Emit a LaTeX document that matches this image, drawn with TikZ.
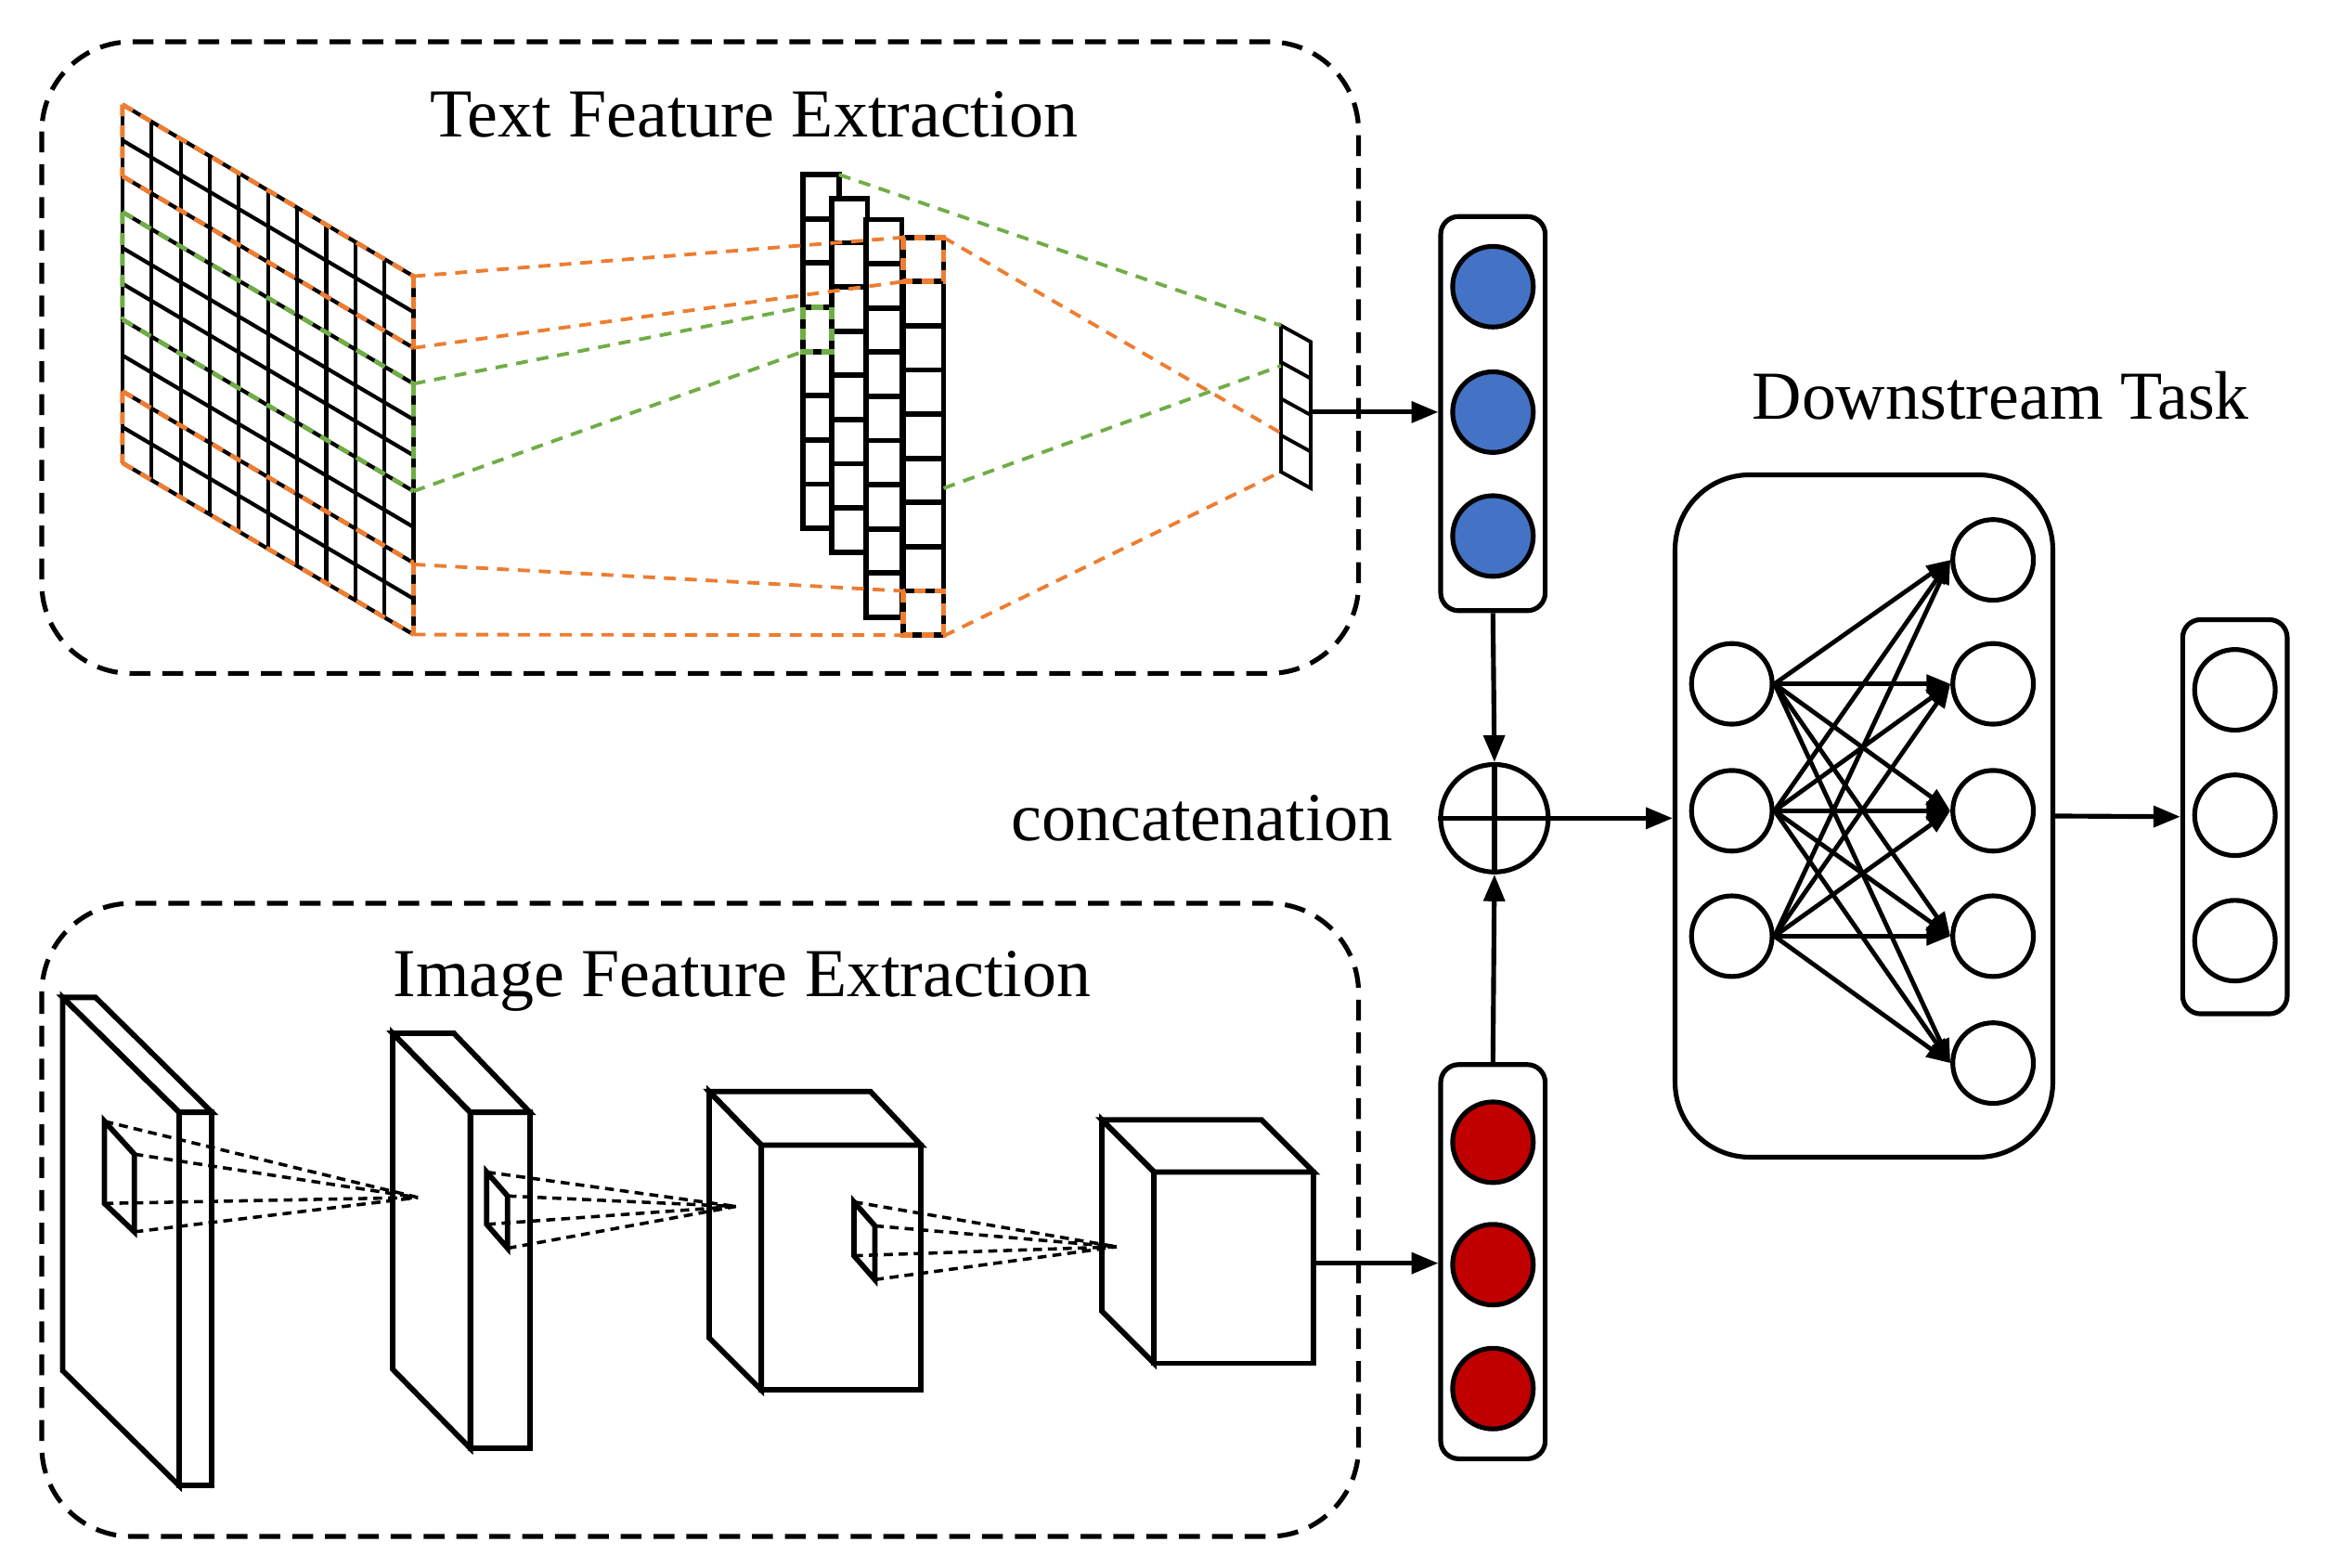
\documentclass[tikz,border=0pt]{standalone}
\usepackage{fontspec}
\setmainfont{Liberation Serif}
\usetikzlibrary{arrows.meta,calc}
\definecolor{myor}{RGB}{237,125,49}
\definecolor{mygr}{RGB}{112,173,71}
\definecolor{myblue}{RGB}{68,114,196}
\definecolor{myred}{RGB}{192,0,0}
\begin{document}
\begin{tikzpicture}[x=0.5pt,y=-0.5pt,
  thick/.style={line width=1.8pt},
  grp/.style={draw,line width=1.6pt,dash pattern=on 7pt off 4pt,rounded corners=30pt},
  vbox/.style={draw,line width=1.6pt,rounded corners=6pt,minimum width=35pt,minimum height=132pt},
  neu/.style={circle,draw,line width=1.6pt,minimum size=27pt,inner sep=0pt},
  odash/.style={myor,line width=1.2pt,dash pattern=on 4pt off 3pt},
  gdash/.style={mygr,line width=1.2pt,dash pattern=on 4pt off 3pt},
  kdash/.style={line width=1.1pt,dash pattern=on 3pt off 2pt},
  arr/.style={line width=1.6pt,-{Triangle[length=9pt,width=7pt]}},
  ttl/.style={font=\fontsize{23}{25}\selectfont}]
\useasboundingbox (0,0) rectangle (1560,1050);
% group boxes
\draw[grp] (28,28) rectangle (910,451);
\draw[grp] (28,605) rectangle (910,1029);
\node[ttl] (t1) at (505,77) {Text Feature Extraction};
\node[ttl] (t2) at (497,657) {Image Feature Extraction};
% grid
\foreach \i in {0,...,10}
  \draw[line width=1.3pt] ({82+19.5*\i},{70+11.5*\i}) -- ({82+19.5*\i},{310+11.5*\i});
\foreach \j in {0,...,10}
  \draw[line width=1.3pt] (82,{70+24*\j}) -- (277,{185+24*\j});
\draw[odash,line width=1.5pt] (82,70) -- (277,185) (82,118) -- (277,233) (82,262) -- (277,377) (82,310) -- (277,425)
  (82,70) -- (82,118) (277,185) -- (277,233) (82,262) -- (82,310) (277,377) -- (277,425);
\draw[gdash,line width=1.5pt] (82,142) -- (277,257) (82,214) -- (277,329) (82,142) -- (82,214) (277,257) -- (277,329);
% columns of cells
\def\ch{29.6}
\foreach \x/\t/\n in {538/117/8,557/133/8,580/147/9,605/159/9}{
  \foreach \k in {1,...,\n}
    \draw[thick,fill=white] (\x,{\t+\ch*(\k-1)}) rectangle ({\x+24},{\t+\ch*\k});
}
\draw[thick,fill=white] (605,159) rectangle (632,{159+9*\ch});
\foreach \k in {1,...,8} \draw[thick] (605,{159+\ch*\k}) -- (632,{159+\ch*\k});
\draw[odash,line width=1.8pt] (605,159) rectangle (632,{159+\ch});
\draw[odash,line width=1.8pt] (605,{159+8*\ch}) rectangle (632,{159+9*\ch});
\draw[gdash,line width=1.8pt] (538,{117+3*\ch}) rectangle (557,{117+4*\ch});
% projections grid -> columns
\draw[odash] (277,185) -- (605,159) (277,233) -- (605,{159+\ch});
\draw[gdash] (277,257) -- (538,{117+3*\ch}) (277,329) -- (538,{117+4*\ch});
\draw[odash] (277,378) -- (605,{159+8*\ch}) (277,425) -- (605,{159+9*\ch});
% vector
\draw[line width=1.2pt] (858,218) -- (858,316) -- (878,327) -- (878,229) -- cycle;
\foreach \k in {1,2,3} \draw[line width=1.2pt] (858,{218+24.5*\k}) -- (878,{229+24.5*\k});
\coordinate (vec) at (878,276);
\draw[gdash] (562,117) -- (858,218) (632,327) -- (858,245);
\draw[odash] (632,159) -- (858,290) (632,426) -- (858,316);
% feature boxes
\node[vbox] (bb) at (1000,277) {};
\node[vbox] (rb) at (1000,845) {};
\foreach \y/\n in {192/b1,276/b2,359/b3} \node[neu,fill=myblue] (\n) at (1000,\y) {};
\foreach \y/\n in {765/r1,847/r2,930/r3} \node[neu,fill=myred] (\n) at (1000,\y) {};
\draw[arr] (vec) -- (vec -| bb.west);
% concatenation
\node[circle,draw,line width=1.6pt,minimum size=36pt,inner sep=0pt] (cc) at (1001,548) {};
\draw[line width=1.6pt] (cc.north) -- (cc.south) (cc.west) -- (cc.east);
\node[ttl,anchor=east] (ct) at (940,548) {concatenation};
\draw[arr] (bb.south) -- (cc.north);
\draw[arr] (rb.north) -- (cc.south);
% downstream
\node[draw,line width=1.6pt,rounded corners=25pt,minimum width=126.5pt,minimum height=228.5pt] (ds) at (1248.5,546.5) {};
\node[ttl] (dt) at (1340,265) {Downstream Task};
\draw[arr] (cc.east) -- (cc.east -| ds.west);
\foreach \y/\n in {458/i1,543/i2,627/i3} \node[neu] (\n) at (1160,\y) {};
\foreach \y/\n in {375/o1,458/o2,543/o3,627/o4,712/o5} \node[neu] (\n) at (1335,\y) {};
\foreach \a in {i1,i2,i3}
  \foreach \b in {o1,o2,o3,o4,o5}
    \draw[line width=1.5pt,-{Triangle[length=8pt,width=6pt]}] (\a.east) -- (\b.west);
\node[vbox] (ob) at (1497,547) {};
\foreach \y/\n in {462/p1,546/p2,630/p3} \node[neu] (\n) at (1497,\y) {};
\draw[arr] (ds.east) -- (ob.west);
% image slabs
\draw[thick] (42,668) -- (64,668) -- (142,745) -- (120,745) -- cycle;
\draw[thick] (42,668) -- (120,745) -- (120,995) -- (42,918) -- cycle;
\draw[thick] (120,745) rectangle (142,995);
\draw[thick] (70,751) -- (90,773) -- (90,825) -- (70,806) -- cycle;
\draw[kdash] (70,751) -- (280,802) (90,773) -- (280,802) (70,806) -- (280,802) (90,825) -- (280,802);
\draw[thick] (263,692) -- (304,692) -- (355,745) -- (315,745) -- cycle;
\draw[thick] (263,692) -- (315,745) -- (315,970) -- (263,917) -- cycle;
\draw[thick] (315,745) rectangle (355,970);
\draw[thick] (326,785) -- (340,801) -- (340,836) -- (326,820) -- cycle;
\draw[kdash] (326,785) -- (493,808) (340,801) -- (493,808) (326,820) -- (493,808) (340,836) -- (493,808);
\draw[thick] (475,731) -- (583,731) -- (617,767) -- (510,767) -- cycle;
\draw[thick] (475,731) -- (510,767) -- (510,931) -- (475,896) -- cycle;
\draw[thick] (510,767) rectangle (617,931);
\draw[thick] (572,805) -- (586,821) -- (586,857) -- (572,841) -- cycle;
\draw[kdash] (572,805) -- (748,835) (586,821) -- (748,835) (572,841) -- (748,835) (586,857) -- (748,835);
\draw[thick] (738,750) -- (845,750) -- (880,785) -- (773,785) -- cycle;
\draw[thick] (738,750) -- (773,785) -- (773,913) -- (738,878) -- cycle;
\draw[thick] (773,785) rectangle (880,913);
\coordinate (cube) at (880,846);
\draw[arr] (cube) -- (cube -| rb.west);
\end{tikzpicture}
\end{document}
